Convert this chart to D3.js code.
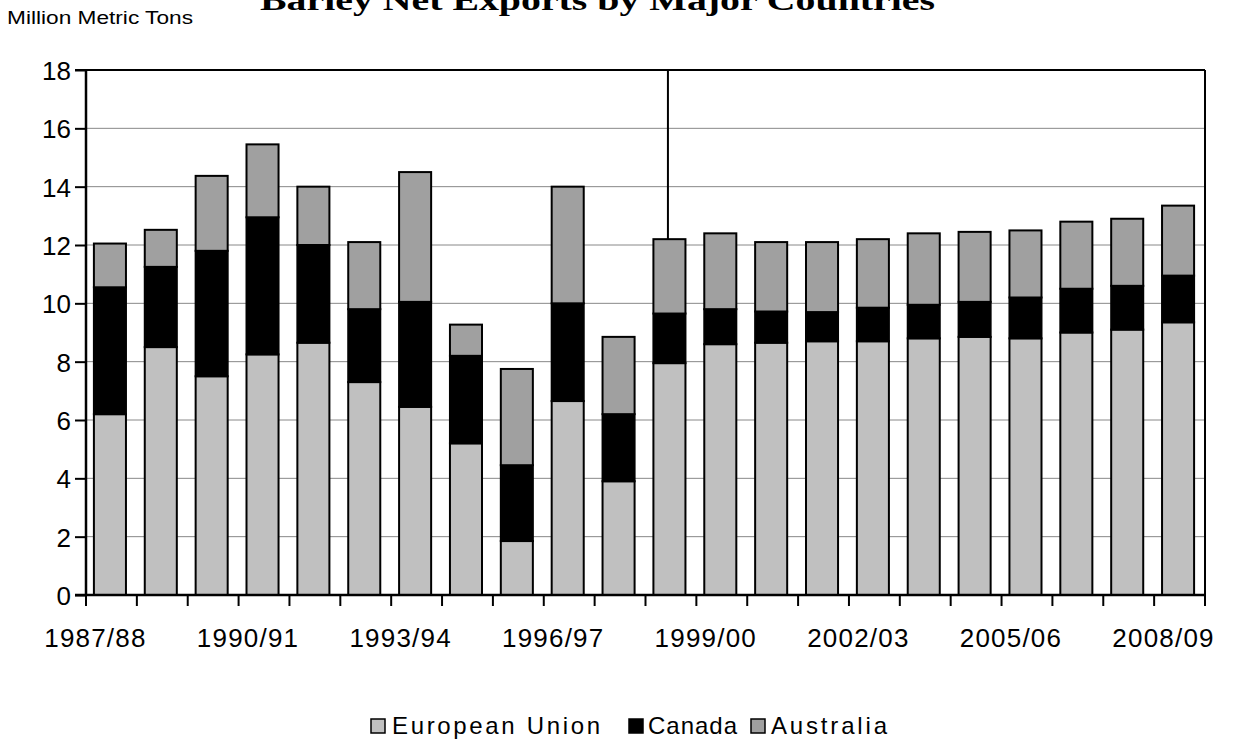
<!DOCTYPE html>
<html>
<head>
<meta charset="utf-8">
<script src="https://cdn.jsdelivr.net/npm/d3@7"></script>
<style>
  html, body { margin: 0; padding: 0; background: #fff; }
  svg { display: block; }
</style>
</head>
<body>
<svg id="chart" width="1247" height="740"></svg>
<script>
const categories = ["1987/88","1988/89","1989/90","1990/91","1991/92","1992/93","1993/94","1994/95","1995/96","1996/97","1997/98","1998/99","1999/00","2000/01","2001/02","2002/03","2003/04","2004/05","2005/06","2006/07","2007/08","2008/09"];
const euValues = [6.2, 8.5, 7.5, 8.25, 8.65, 7.3, 6.45, 5.2, 1.85, 6.65, 3.9, 7.95, 8.6, 8.65, 8.7, 8.7, 8.8, 8.85, 8.8, 9.0, 9.1, 9.35];
const canadaValues = [4.35, 2.75, 4.3, 4.7, 3.35, 2.5, 3.6, 3.0, 2.6, 3.35, 2.3, 1.7, 1.2, 1.07, 1.0, 1.15, 1.15, 1.2, 1.4, 1.5, 1.5, 1.6];
const australiaValues = [1.5, 1.27, 2.57, 2.5, 2.0, 2.3, 4.45, 1.07, 3.3, 4.0, 2.65, 2.55, 2.6, 2.38, 2.4, 2.35, 2.45, 2.4, 2.3, 2.3, 2.3, 2.4];
const seriesNames = ["European Union", "Canada", "Australia"];
const seriesColors = ["#c0c0c0", "#000000", "#a0a0a0"];
const yTicks = [0, 2, 4, 6, 8, 10, 12, 14, 16, 18];
const xTickLabels = ["1987/88","1990/91","1993/94","1996/97","1999/00","2002/03","2005/06","2008/09"];
const dividerCategory = "1998/99";
const titleText = "Barley Net Exports by Major Countries";
const yAxisLabel = "Million Metric Tons";

(function () {
const svg = d3.select("#chart");
const pLeft = 86, pRight = 1205, pTop = 70, pBottom = 595;
const font = "'Liberation Sans', Arial, sans-serif";

const rows = categories.map((c, i) => ({cat: c, eu: euValues[i], canada: canadaValues[i], australia: australiaValues[i]}));
const keys = ["eu", "canada", "australia"];
const stacked = d3.stack().keys(keys)(rows);

const x = d3.scaleBand().domain(categories).range([pLeft, pRight]).paddingInner(0.37).paddingOuter(0.185);
const y = d3.scaleLinear().domain([0, 18]).range([pBottom, pTop]);

// gridlines
svg.append("g").selectAll("line").data(yTicks.filter(t => t > 0 && t < 18)).join("line")
  .attr("x1", pLeft).attr("x2", pRight)
  .attr("y1", d => y(d)).attr("y2", d => y(d))
  .attr("stroke", "#888").attr("stroke-width", 1);

// bars
const layers = svg.append("g").selectAll("g").data(stacked).join("g")
  .attr("fill", (d, i) => seriesColors[i]);
layers.selectAll("rect").data(d => d).join("rect")
  .attr("x", d => x(d.data.cat) - 1.5)
  .attr("width", x.bandwidth())
  .attr("y", d => y(d[1]))
  .attr("height", d => y(d[0]) - y(d[1]))
  .attr("stroke", "#000").attr("stroke-width", 2);

// divider line
const topStack = stacked[2].find(d => d.data.cat === dividerCategory);
svg.append("line")
  .attr("x1", x(dividerCategory) + x.bandwidth() / 2 - 3)
  .attr("x2", x(dividerCategory) + x.bandwidth() / 2 - 3)
  .attr("y1", pTop).attr("y2", y(topStack[1]))
  .attr("stroke", "#000").attr("stroke-width", 2);

// frame top and right
svg.append("line").attr("x1", pLeft - 11).attr("x2", pRight).attr("y1", pTop).attr("y2", pTop)
  .attr("stroke", "#000").attr("stroke-width", 2);
svg.append("line").attr("x1", pRight).attr("x2", pRight).attr("y1", pTop).attr("y2", pBottom + 11)
  .attr("stroke", "#000").attr("stroke-width", 2);

// y axis
const yAxis = svg.append("g").attr("transform", `translate(${pLeft},0)`)
  .call(d3.axisLeft(y).tickValues(yTicks).tickSize(11).tickPadding(4).tickFormat(d3.format("d")));
yAxis.select(".domain").attr("stroke", "#000").attr("stroke-width", 2.5).attr("d", `M0,${pTop}V${pBottom}`);
yAxis.selectAll(".tick line").attr("stroke", "#000").attr("stroke-width", 2);
yAxis.selectAll(".tick text").attr("font-family", font).attr("font-size", 26).attr("fill", "#000").attr("dy", "0.36em");

// x axis: ticks at band boundaries
const boundaries = categories.map(c => x(c) - x.step() * x.paddingInner() / 2).concat([pRight]);
const xg = svg.append("g");
xg.append("line").attr("x1", pLeft - 11).attr("x2", pRight).attr("y1", pBottom).attr("y2", pBottom)
  .attr("stroke", "#000").attr("stroke-width", 2.5);
xg.selectAll("line.tk").data(boundaries).join("line").attr("class", "tk")
  .attr("x1", d => d).attr("x2", d => d).attr("y1", pBottom).attr("y2", pBottom + 11)
  .attr("stroke", "#000").attr("stroke-width", 2);
xg.selectAll("text").data(xTickLabels).join("text")
  .attr("x", d => x(d) + x.bandwidth() / 2 - 16)
  .attr("y", 647)
  .attr("text-anchor", "middle")
  .attr("font-family", font).attr("font-size", 26).attr("letter-spacing", 1.2)
  .text(d => d);

// title
svg.append("text").attr("x", 260).attr("y", 10)
  .attr("font-family", "'Liberation Serif', 'Times New Roman', serif").attr("font-weight", "bold")
  .attr("font-size", 30).attr("textLength", 675).attr("lengthAdjust", "spacingAndGlyphs")
  .text(titleText);

// y label
svg.append("text").attr("x", 7).attr("y", 24)
  .attr("font-family", font).attr("font-size", 18)
  .attr("textLength", 186).attr("lengthAdjust", "spacingAndGlyphs")
  .text(yAxisLabel);

// legend
const legendItems = [
  {name: seriesNames[0], color: seriesColors[0], sx: 371, tx: 392, len: 208},
  {name: seriesNames[1], color: seriesColors[1], sx: 629, tx: 648, len: 89},
  {name: seriesNames[2], color: seriesColors[2], sx: 751, tx: 771, len: 116}
];
const lg = svg.append("g");
legendItems.forEach(it => {
  lg.append("rect").attr("x", it.sx).attr("y", 719).attr("width", 14).attr("height", 14)
    .attr("fill", it.color).attr("stroke", "#000").attr("stroke-width", 1.5);
  lg.append("text").attr("x", it.tx).attr("y", 734)
    .attr("font-family", font).attr("font-size", 24)
    .attr("textLength", it.len).attr("lengthAdjust", "spacing")
    .text(it.name);
});
})();
</script>
</body>
</html>
